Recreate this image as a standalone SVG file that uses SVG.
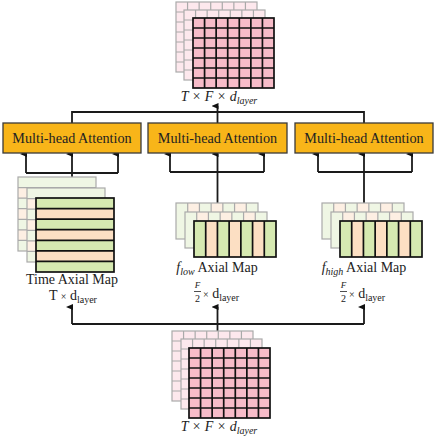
<svg xmlns="http://www.w3.org/2000/svg" width="436" height="436" viewBox="0 0 436 436">
<style>
.box{fill:#F8B519;stroke:#3a3a3a;stroke-width:1.3}
.lbl{font-family:"Liberation Serif","Times New Roman",serif;fill:#222}
.conn{fill:none;stroke:#1a1a1a;stroke-width:1.8}
.fr{stroke:#111;stroke-width:1.7;fill:none}
.bk{stroke:#aaaaaa;stroke-width:1.2;fill:none}
</style>
<defs>
<marker id="ah" markerWidth="6" markerHeight="7" refX="3" refY="6" orient="auto-start-reverse" markerUnits="userSpaceOnUse" viewBox="0 0 6 7">
<path d="M0,7 L3,0 L6,7 Z" fill="#111"/>
</marker>
<g id="pinkFront">
<rect x="0" y="0" width="81" height="70" fill="#F7BCC9"/>
<path class="fr" d="M11.57,0V70M23.14,0V70M34.71,0V70M46.29,0V70M57.86,0V70M69.43,0V70M0,10H81M0,20H81M0,30H81M0,40H81M0,50H81M0,60H81"/>
<rect class="fr" x="0" y="0" width="81" height="70"/>
</g>
<g id="pinkBack">
<rect x="0" y="0" width="81" height="70" fill="#FDE8ED"/>
<path class="bk" d="M11.57,0V70M23.14,0V70M34.71,0V70M46.29,0V70M57.86,0V70M69.43,0V70M0,10H81M0,20H81M0,30H81M0,40H81M0,50H81M0,60H81"/>
<rect class="bk" x="0" y="0" width="81" height="70"/>
</g>
<g id="rowFront">
<rect x="0" y="0" width="78" height="10.57" fill="#D6E9B1"/>
<rect x="0" y="10.57" width="78" height="10.57" fill="#FCDFC3"/>
<rect x="0" y="21.14" width="78" height="10.57" fill="#D6E9B1"/>
<rect x="0" y="31.71" width="78" height="10.57" fill="#FCDFC3"/>
<rect x="0" y="42.29" width="78" height="10.57" fill="#D6E9B1"/>
<rect x="0" y="52.86" width="78" height="10.57" fill="#FCDFC3"/>
<rect x="0" y="63.43" width="78" height="10.57" fill="#D6E9B1"/>
<path class="fr" d="M0,10.57H78M0,21.14H78M0,31.71H78M0,42.29H78M0,52.86H78M0,63.43H78"/>
<rect class="fr" x="0" y="0" width="78" height="74"/>
</g>
<g id="rowBack">
<rect x="0" y="0" width="78" height="74" fill="#EFF6E4"/>
<rect x="0" y="10.57" width="78" height="10.57" fill="#FDEFE3"/>
<rect x="0" y="31.71" width="78" height="10.57" fill="#FDEFE3"/>
<rect x="0" y="52.86" width="78" height="10.57" fill="#FDEFE3"/>
<path class="bk" d="M0,10.57H78M0,21.14H78M0,31.71H78M0,42.29H78M0,52.86H78M0,63.43H78"/>
<rect class="bk" x="0" y="0" width="78" height="74"/>
</g>
<g id="colFront">
<rect x="0" y="0" width="11.71" height="36" fill="#D6E9B1"/>
<rect x="11.71" y="0" width="11.71" height="36" fill="#FCDFC3"/>
<rect x="23.43" y="0" width="11.71" height="36" fill="#D6E9B1"/>
<rect x="35.14" y="0" width="11.71" height="36" fill="#FCDFC3"/>
<rect x="46.86" y="0" width="11.71" height="36" fill="#D6E9B1"/>
<rect x="58.57" y="0" width="11.71" height="36" fill="#FCDFC3"/>
<rect x="70.29" y="0" width="11.71" height="36" fill="#D6E9B1"/>
<path class="fr" d="M11.71,0V36M23.43,0V36M35.14,0V36M46.86,0V36M58.57,0V36M70.29,0V36"/>
<rect class="fr" x="0" y="0" width="82" height="36"/>
</g>
<g id="colBack">
<rect x="0" y="0" width="82" height="36" fill="#EFF6E4"/>
<rect x="11.71" y="0" width="11.71" height="36" fill="#FDEFE3"/>
<rect x="35.14" y="0" width="11.71" height="36" fill="#FDEFE3"/>
<rect x="58.57" y="0" width="11.71" height="36" fill="#FDEFE3"/>
<path class="bk" d="M11.71,0V36M23.43,0V36M35.14,0V36M46.86,0V36M58.57,0V36M70.29,0V36"/>
<rect class="bk" x="0" y="0" width="82" height="36"/>
</g>
</defs>

<g id="connectors">
<path class="conn" d="M72,123V112H364V123"/>
<path class="conn" d="M217.5,123V106" marker-end="url(#ah)"/>
<path class="conn" d="M26,173H118"/>
<path class="conn" d="M26,173V154" marker-end="url(#ah)"/>
<path class="conn" d="M72,177V154" marker-end="url(#ah)"/>
<path class="conn" d="M118,173V154" marker-end="url(#ah)"/>
<path class="conn" d="M170,172H264"/>
<path class="conn" d="M170,172V154" marker-end="url(#ah)"/>
<path class="conn" d="M217.5,203V154" marker-end="url(#ah)"/>
<path class="conn" d="M264,172V154" marker-end="url(#ah)"/>
<path class="conn" d="M318,172H412"/>
<path class="conn" d="M318,172V154" marker-end="url(#ah)"/>
<path class="conn" d="M364,203V154" marker-end="url(#ah)"/>
<path class="conn" d="M412,172V154" marker-end="url(#ah)"/>
<path class="conn" d="M72,324H364"/>
<path class="conn" d="M72,324V307" marker-end="url(#ah)"/>
<path class="conn" d="M217.5,333V307" marker-end="url(#ah)"/>
<path class="conn" d="M364,324V307" marker-end="url(#ah)"/>
</g>

<g id="output-tensor">
<use href="#pinkBack" x="176" y="2"/>
<use href="#pinkBack" x="184" y="10"/>
<use href="#pinkFront" x="193" y="18"/>
<text class="lbl" x="219" y="101" text-anchor="middle" font-size="14" font-style="italic">T × F × d<tspan font-size="10" dy="3">layer</tspan></text>
</g>

<g id="mha1">
<rect class="box" x="3" y="123" width="138" height="30"/>
<text class="lbl" x="72" y="143" text-anchor="middle" font-size="14.2">Multi-head Attention</text>
</g>
<g id="mha2">
<rect class="box" x="148" y="123" width="139" height="30"/>
<text class="lbl" x="217.5" y="143" text-anchor="middle" font-size="14.2">Multi-head Attention</text>
</g>
<g id="mha3">
<rect class="box" x="295" y="123" width="138" height="30"/>
<text class="lbl" x="364" y="143" text-anchor="middle" font-size="14.2">Multi-head Attention</text>
</g>

<g id="time-map">
<use href="#rowBack" x="18" y="177"/>
<use href="#rowBack" x="27" y="188"/>
<use href="#rowFront" x="36" y="198"/>
<text class="lbl" x="72" y="284" text-anchor="middle" font-size="14">Time Axial Map</text>
<text class="lbl" x="73" y="300" text-anchor="middle" font-size="14">T <tspan font-size="10">×</tspan> d<tspan font-size="10" dy="3">layer</tspan></text>
</g>

<g id="flow-map">
<use href="#colBack" x="176" y="203"/>
<use href="#colBack" x="185" y="212"/>
<use href="#colFront" x="194" y="221"/>
<text class="lbl" x="217" y="272" text-anchor="middle" font-size="14"><tspan font-style="italic">f</tspan><tspan font-style="italic" font-size="10" dy="3">low</tspan><tspan dy="-3"> Axial Map</tspan></text>
<text class="lbl" x="197.5" y="288" text-anchor="middle" font-size="9" font-style="italic">F</text>
<line x1="194" y1="291.5" x2="201" y2="291.5" stroke="#222" stroke-width="0.8"/>
<text class="lbl" x="197.5" y="302" text-anchor="middle" font-size="10">2</text>
<text class="lbl" x="203" y="298" font-size="14"><tspan font-size="10">×</tspan> d<tspan font-size="10" dy="3">layer</tspan></text>
</g>

<g id="fhigh-map">
<use href="#colBack" x="322" y="203"/>
<use href="#colBack" x="331" y="212"/>
<use href="#colFront" x="340" y="221"/>
<text class="lbl" x="364" y="272" text-anchor="middle" font-size="14"><tspan font-style="italic">f</tspan><tspan font-style="italic" font-size="10" dy="3">high</tspan><tspan dy="-3"> Axial Map</tspan></text>
<text class="lbl" x="343.5" y="288" text-anchor="middle" font-size="9" font-style="italic">F</text>
<line x1="340" y1="291.5" x2="347" y2="291.5" stroke="#222" stroke-width="0.8"/>
<text class="lbl" x="343.5" y="302" text-anchor="middle" font-size="10">2</text>
<text class="lbl" x="349" y="298" font-size="14"><tspan font-size="10">×</tspan> d<tspan font-size="10" dy="3">layer</tspan></text>
</g>

<g id="input-tensor">
<use href="#pinkBack" x="172" y="331"/>
<use href="#pinkBack" x="181" y="339"/>
<use href="#pinkFront" x="189" y="348"/>
<text class="lbl" x="219" y="431" text-anchor="middle" font-size="14" font-style="italic">T × F × d<tspan font-size="10" dy="3">layer</tspan></text>
</g>
</svg>
